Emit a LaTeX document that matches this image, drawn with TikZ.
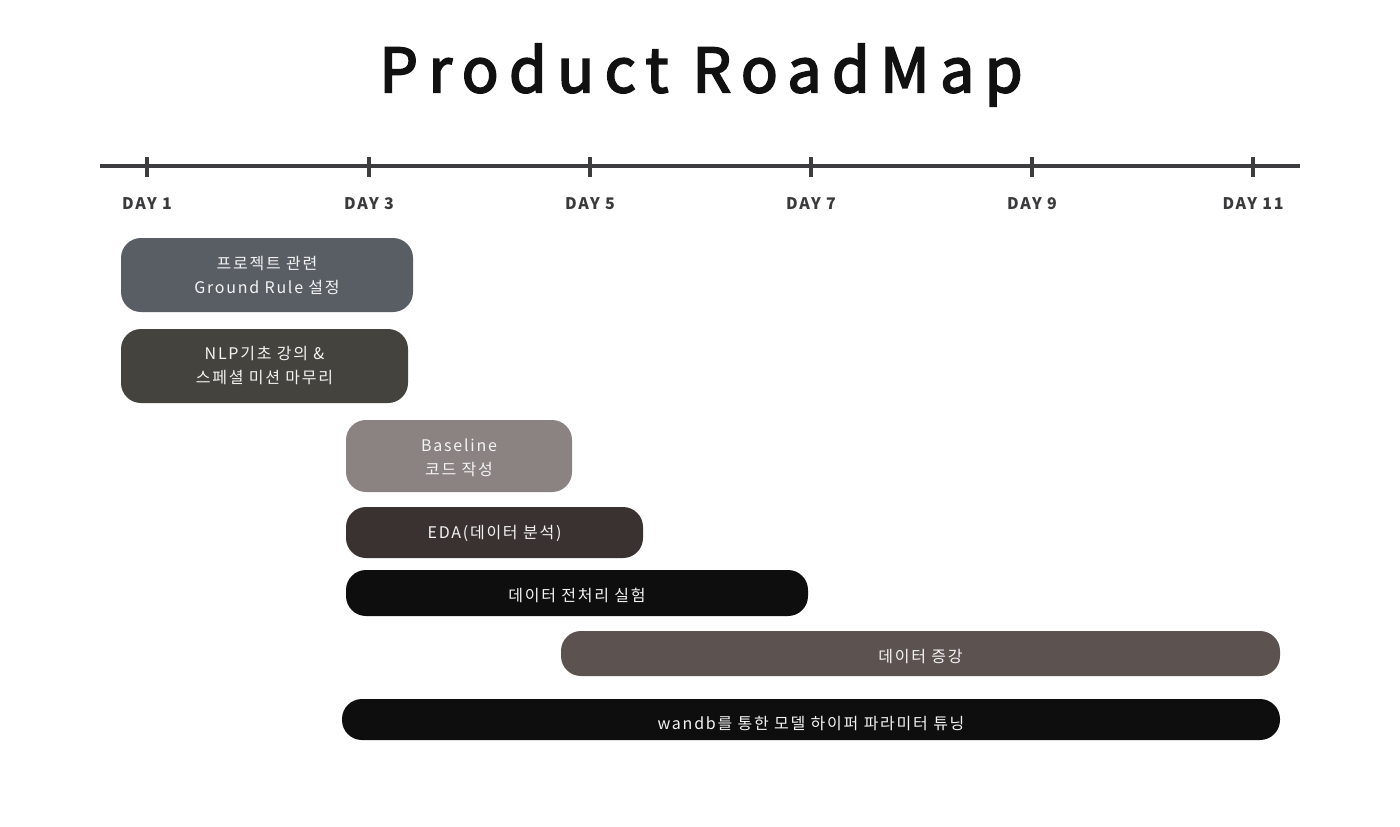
\documentclass[tikz,border=0pt]{standalone}
\usepackage{fontspec}
\setmainfont{Noto Sans CJK KR}
\newfontfamily\titlefont[LetterSpace=17,FakeBold=3]{Noto Sans CJK KR}
\newfontfamily\dayfont[LetterSpace=10]{Noto Sans CJK KR}
\newfontfamily\barfont[LetterSpace=11]{Noto Sans CJK KR}
\definecolor{lineC}{HTML}{3D3D40}
\definecolor{dayC}{HTML}{3A3A3C}
\definecolor{titleC}{HTML}{111111}
\definecolor{cA}{HTML}{595E65}
\definecolor{cB}{HTML}{45433D}
\definecolor{cC}{HTML}{8A8382}
\definecolor{cD}{HTML}{3A3231}
\definecolor{cE}{HTML}{0E0E0E}
\definecolor{cF}{HTML}{5C5351}
\definecolor{txtC}{HTML}{F4F4F4}
\begin{document}
\begin{tikzpicture}[x=1pt,y=-1pt,
  bar/.style={rounded corners=20pt, inner sep=0pt},
  bartxt/.style={inner sep=0pt, text=txtC, align=center,
    font=\barfont\fontsize{16}{24}\selectfont},
  daylbl/.style={text=dayC, font=\dayfont\bfseries\fontsize{16}{18}\selectfont, inner sep=0pt},
  tick/.style={draw=lineC, line width=4pt}]
\useasboundingbox (0,0) rectangle (1400,827);
\fill[white] (0,0) rectangle (1400,827);
% title
\node[text=titleC, font=\titlefont\fontsize{61}{70}\selectfont, inner sep=0pt] (title) at (701,75) {Product RoadMap};
% timeline
\coordinate (tl0) at (100,166);
\coordinate (tl1) at (1300,166);
\draw[lineC, line width=4.5pt] (tl0) -- (tl1);
\foreach \x/\n/\lab in {147/1/DAY 1,369/3/DAY 3,590/5/DAY 5,811/7/DAY 7,1032/9/DAY 9,1253/11/DAY 11}{
  \coordinate (t\n a) at (\x,157);
  \coordinate (t\n b) at (\x,177);
  \draw[tick] (t\n a) -- (t\n b);
  \node[daylbl] (d\n) at (\x,204) {\lab};
}
% bars
\node[bar, fill=cA, minimum width=292pt, minimum height=74pt] (b1) at (267,275) {};
\node[bartxt] (b1t) at ([yshift=0pt]b1.center) {프로젝트 관련\\Ground Rule 설정};
\node[bar, fill=cB, minimum width=287pt, minimum height=74pt] (b2) at (264.5,366) {};
\node[bartxt] (b2t) at ([yshift=0pt]b2.center) {NLP기초 강의 \&\\스페셜 미션 마무리};
\node[bar, fill=cC, minimum width=226pt, minimum height=72pt] (b3) at (459,456) {};
\node[bartxt] (b3t) at ([yshift=-2pt]b3.center) {Baseline\\코드 작성};
\node[bar, fill=cD, minimum width=297pt, minimum height=51pt] (b4) at (494.5,532.5) {};
\node[bartxt] (b4t) at ([yshift=-1pt]b4.center) {EDA(데이터 분석)};
\node[bar, fill=cE, minimum width=462pt, minimum height=46pt] (b5) at (577,593) {};
\node[bartxt] (b5t) at ([yshift=-2pt]b5.center) {데이터 전처리 실험};
\node[bar, fill=cF, minimum width=719pt, minimum height=45pt] (b6) at (920.5,653.5) {};
\node[bartxt] (b6t) at ([yshift=-3pt]b6.center) {데이터 증강};
\node[bar, fill=cE, minimum width=938pt, minimum height=41pt] (b7) at (811,719.5) {};
\node[bartxt] (b7t) at ([yshift=-4pt]b7.center) {wandb를 통한 모델 하이퍼 파라미터 튜닝};
\end{tikzpicture}
\end{document}
